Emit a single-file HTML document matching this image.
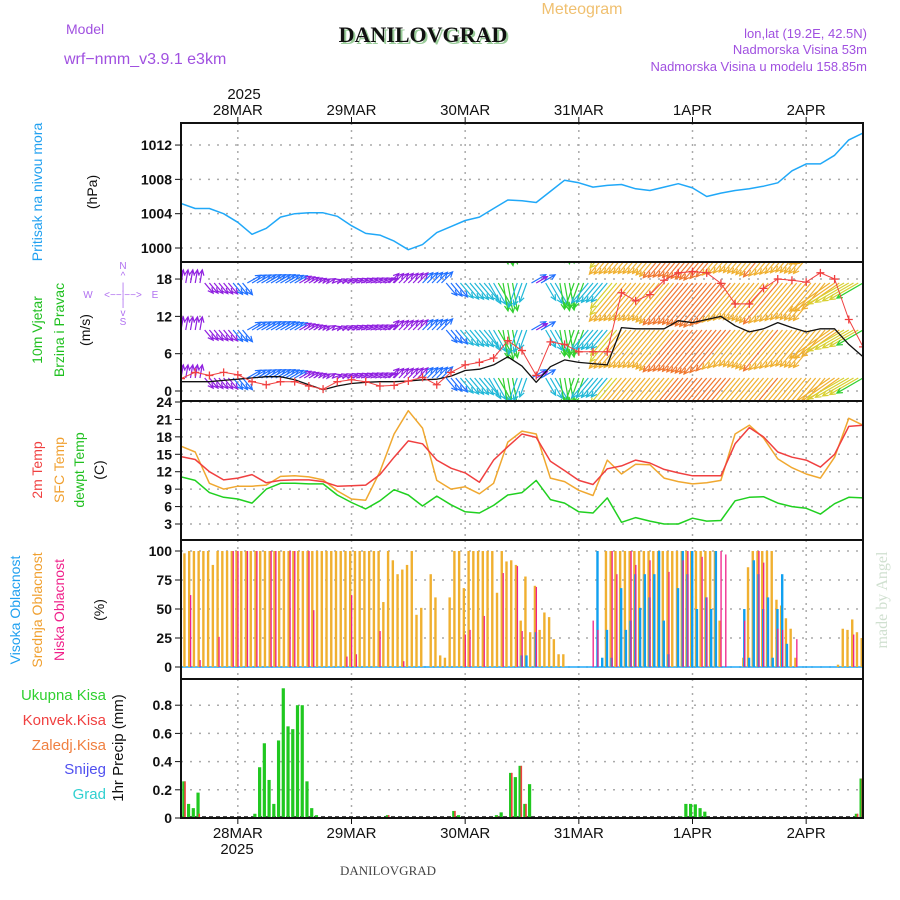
<!DOCTYPE html>
<html><head><meta charset="utf-8">
<style>
html,body{margin:0;padding:0;background:#fff;}
svg{display:block;font-family:"Liberation Sans",sans-serif;}
.tk{font-size:14px;font-weight:bold;fill:#111;text-anchor:end;}
.dt{font-size:15px;fill:#111;text-anchor:middle;}
.lab{font-size:14px;}
</style></head>
<body>
<svg id="chart" width="900" height="900" viewBox="0 0 900 900" xmlns="http://www.w3.org/2000/svg">
<defs>
<clipPath id="clipWind"><rect x="181" y="262" width="682" height="139"/></clipPath>
<clipPath id="clipAll"><rect x="181" y="123" width="682" height="695"/></clipPath>
</defs>
<!-- header -->
<text x="582" y="14" font-size="16" fill="#f0c070" text-anchor="middle">Meteogram</text>
<text x="425" y="44" font-size="22" font-weight="bold" font-family="Liberation Serif,serif" fill="#9c9" text-anchor="middle">DANILOVGRAD</text>
<text x="423" y="42" font-size="22" font-weight="bold" font-family="Liberation Serif,serif" fill="#111" text-anchor="middle">DANILOVGRAD</text>
<text x="66" y="34" font-size="14" fill="#a050e0">Model</text>
<text x="64" y="64" font-size="16" fill="#a050e0">wrf−nmm_v3.9.1  e3km</text>
<text x="867" y="38" font-size="13" fill="#a050e0" text-anchor="end">lon,lat (19.2E, 42.5N)</text>
<text x="867" y="54" font-size="13" fill="#a050e0" text-anchor="end">Nadmorska Visina 53m</text>
<text x="867" y="71" font-size="13" fill="#a050e0" text-anchor="end">Nadmorska Visina u modelu 158.85m</text>
<text x="244" y="99" class="dt">2025</text>
<g id="gGrid"></g>
<g id="gData" clip-path="url(#clipAll)"></g>
<g id="gFrames"></g>
<g id="gTicks"></g>
<!-- left labels -->
<text transform="translate(42,192) rotate(-90)" class="lab" fill="#20a0f0" text-anchor="middle">Pritisak na nivou mora</text>
<text transform="translate(97,192) rotate(-90)" class="lab" fill="#111" text-anchor="middle">(hPa)</text>
<text transform="translate(42,330) rotate(-90)" class="lab" fill="#20c020" text-anchor="middle">10m Vjetar</text>
<text transform="translate(64,330) rotate(-90)" class="lab" fill="#20c020" text-anchor="middle">Brzina i Pravac</text>
<text transform="translate(90,330) rotate(-90)" class="lab" fill="#111" text-anchor="middle">(m/s)</text>
<g fill="#b070f0" font-size="10" text-anchor="middle">
<text x="123" y="269">N</text><text x="123" y="279">^</text><text x="123" y="290">|</text>
<text x="88" y="298">W</text><text x="123" y="298">&lt;−−|−−&gt;</text><text x="155" y="298">E</text>
<text x="123" y="306">|</text><text x="123" y="316">v</text><text x="123" y="325">S</text>
</g>
<text transform="translate(42,470) rotate(-90)" class="lab" fill="#f04040" text-anchor="middle">2m Temp</text>
<text transform="translate(64,470) rotate(-90)" class="lab" fill="#f0a030" text-anchor="middle">SFC Temp</text>
<text transform="translate(84,470) rotate(-90)" class="lab" fill="#20c020" text-anchor="middle">dewpt Temp</text>
<text transform="translate(104,470) rotate(-90)" class="lab" fill="#111" text-anchor="middle">(C)</text>
<text transform="translate(20,610) rotate(-90)" class="lab" fill="#20a0f0" text-anchor="middle">Visoka Oblacnost</text>
<text transform="translate(42,610) rotate(-90)" class="lab" fill="#f0a030" text-anchor="middle">Srednja Oblacnost</text>
<text transform="translate(64,610) rotate(-90)" class="lab" fill="#f0208a" text-anchor="middle">Niska Oblacnost</text>
<text transform="translate(104,610) rotate(-90)" class="lab" fill="#111" text-anchor="middle">(%)</text>
<g font-size="15" text-anchor="end">
<text x="106" y="700" fill="#30d030">Ukupna  Kisa</text>
<text x="106" y="725" fill="#f04040">Konvek.Kisa</text>
<text x="106" y="750" fill="#f08040">Zaledj.Kisa</text>
<text x="106" y="774" fill="#5050f0">Snijeg</text>
<text x="106" y="799" fill="#30d0d0">Grad</text>
</g>
<text transform="translate(123,748) rotate(-90)" font-size="15" fill="#111" text-anchor="middle">1hr Precip (mm)</text>
<text x="237" y="854" class="dt">2025</text>
<text x="388" y="875" font-size="13" font-family="Liberation Serif,serif" fill="#444" text-anchor="middle">DANILOVGRAD</text>
<text transform="translate(887,600) rotate(-90)" font-size="16" font-family="Liberation Serif,serif" fill="#d0e0d0" text-anchor="middle">made by Angel</text>
</svg>
<script>
// ===== data (3-hourly, from 27MAR 12Z) =====
const dayLabels = ["28MAR","29MAR","30MAR","31MAR","1APR","2APR"];
const pressure = [1005.2,1004.6,1004.6,1004.0,1003.0,1001.6,1002.3,1003.6,1004.0,1004.1,1004.1,1003.7,1002.6,1001.7,1001.5,1000.8,999.8,1000.4,1001.8,1002.5,1003.2,1003.6,1004.6,1005.6,1005.5,1005.3,1006.6,1007.9,1007.6,1007.1,1007.3,1007.4,1006.9,1006.7,1007.1,1007.5,1007.0,1006.0,1006.4,1006.7,1006.9,1007.2,1007.6,1009.0,1009.8,1009.8,1010.8,1012.6,1013.4];
const temp2m = [14.6,14.1,12.0,10.6,10.9,11.5,10.1,10.5,10.6,10.6,10.3,9.5,9.6,9.7,11.5,14.5,17.3,16.8,14.0,12.6,11.8,10.2,14.0,16.3,18.5,17.9,13.8,12.2,10.5,9.8,12.5,13.0,14.0,13.5,12.4,11.8,11.3,11.3,11.3,16.8,19.6,18.0,15.4,14.5,14.0,12.8,15.0,19.8,20.0];
const tempSfc = [16.4,15.4,10.0,9.0,9.5,9.5,9.7,11.2,11.3,11.1,10.6,8.7,7.3,7.1,12.0,18.5,22.5,19.5,10.5,9.0,9.4,8.2,10.0,17.1,19.0,18.5,10.9,10.3,8.8,7.9,14.0,11.6,13.3,13.2,10.9,10.3,9.9,10.1,10.5,18.5,20.0,17.8,14.2,12.7,11.6,10.9,14.5,21.2,20.0];
const dewpt = [11.1,10.5,8.4,7.6,7.3,6.6,9.0,10.0,10.0,9.9,9.9,8.0,6.7,5.6,7.0,8.9,8.0,6.1,7.8,6.3,5.1,4.9,6.2,8.0,8.4,10.5,7.2,6.6,5.1,4.9,7.5,3.3,4.1,3.5,3.0,3.0,4.0,3.5,3.6,7.0,7.6,7.7,6.6,6.0,5.7,4.7,6.5,7.6,7.5];
const windSpeed = [1.5,1.5,1.5,1.7,1.9,2.1,2.3,2.3,1.8,1.0,0.2,0.8,1.2,1.4,1.5,1.5,1.6,1.8,1.9,2.4,3.3,3.5,4.2,5.5,4.0,1.4,3.9,5.0,4.6,4.4,4.2,10.2,10.0,10.0,10.0,11.3,11.0,11.5,12.0,10.5,9.5,10.0,11.0,10.2,9.5,10.0,10.0,7.5,5.5];
const windGust = [2.0,3.0,2.5,3.0,2.6,1.5,1.0,1.5,1.5,0.8,0.3,1.5,1.8,1.5,0.8,0.9,1.6,2.2,1.0,3.0,4.2,4.6,5.3,8.1,6.5,2.5,7.9,7.5,6.3,6.3,6.3,15.8,14.5,15.5,17.8,19.0,19.2,19.0,17.3,14.0,14.0,16.5,18.0,17.8,17.5,19.0,18.0,11.5,7.1];
const windFrom = [190,190,320,320,320,240,240,240,240,240,240,250,250,250,250,225,225,225,225,320,320,320,330,350,20,240,330,350,20,40,40,40,40,40,40,40,40,40,40,40,40,40,40,40,40,40,55,60,60];
// hourly (h1..h144)
const cloudMid = [98,100,100,100,100,100,88,100,100,100,100,100,
100,100,100,100,100,100,100,100,100,100,100,100,100,100,100,100,100,100,100,100,100,100,100,
100,100,100,100,100,100,100,56,100,92,80,84,88,100,45,51,0,80,60,10,8,60,100,100,68,100,100,100,100,100,100,64,100,91,92,88,40,78,30,70,32,47,43,24,11,11,
0,0,0,0,0,0,0,0,
100,100,100,100,100,100,100,100,100,100,100,100,100,100,100,100,100,100,100,100,100,100,100,100,
40,0,0,0,0,8,86,100,100,100,100,100,58,53,42,33,8,0,0,0,0,0,0,0,0,2,33,32,41,30,25,0];
const cloudHigh = [0,0,0,0,0,0,0,0,0,0,0,0,0,0,0,0,0,0,0,0,0,0,0,0,0,0,0,0,0,0,
0,0,0,0,0,0,0,0,0,0,0,0,0,0,0,0,0,0,0,0,0,0,0,0,0,0,0,0,0,0,
0,0,0,0,0,0,0,0,0,0,0,10,10,0,30,0,0,0,0,0,0,0,0,0,0,0,0,100,8,32,
8,0,68,32,40,80,51,80,60,80,100,40,11,0,68,100,80,100,50,0,60,50,100,0,0,0,0,0,50,8,
92,80,50,60,8,50,80,20,0,0,0,0,0,0,0,0];
const cloudLow = [0,62,0,6,0,0,0,26,0,0,100,100,0,100,0,100,0,0,100,100,0,0,100,100,0,0,100,49,0,0,
0,0,0,0,9,62,11,0,0,0,0,31,0,0,0,0,5,0,0,0,0,0,0,0,0,0,0,0,0,28,
32,0,0,44,0,0,0,81,0,0,87,31,0,0,69,0,0,0,0,0,0,0,0,0,0,0,40,32,0,0,
100,80,0,0,100,88,0,0,92,0,0,0,82,0,0,92,100,0,0,95,60,0,0,100,97,0,0,0,40,0,
0,100,90,0,0,33,32,0,0,24,0,0,0,0,0,0,0,0,0,0,0,28,0,0];
const precipTotal = [0.26,0.10,0.07,0.18,0,0,0,0,0,0,0,0,0,0,0,0.03,0.36,0.53,0.27,0.10,0.55,0.92,0.65,0.63,0.80,0.80,0.26,0.07,0.02,0,
0,0,0,0,0,0,0,0,0,0,0,0,0,0.02,0,0,0,0,0,0,0,0,0,0,0,0,0,0.05,0.02,0,
0,0,0,0,0,0,0.02,0.04,0,0.32,0.29,0.37,0.10,0.24,0,0,0,0,0,0,0,0,0,0,0,0,0,0,0,0,
0,0,0,0,0,0,0,0,0,0,0,0,0,0,0,0.01,0.10,0.10,0.097,0.07,0.045,0,0,0,0,0,0,0,0,0,
0,0,0,0,0,0,0,0,0,0,0,0,0,0,0,0,0,0,0,0,0,0,0.03,0.28];
const precipConv = [0.26,0,0,0.03,0,0,0,0,0,0,0,0,0,0,0,0,0,0,0,0,0,0,0,0,0,0,0,0,0,0,
0,0,0,0,0,0,0,0,0,0,0,0,0,0.02,0,0,0,0,0,0,0,0,0,0,0,0,0,0.05,0,0,
0,0,0,0,0,0,0.01,0,0,0.32,0,0.37,0.10,0,0,0,0,0,0,0,0,0,0,0,0,0,0,0,0,0,
0,0,0,0,0,0,0,0,0,0,0,0,0,0,0,0,0,0,0,0,0,0,0,0,0,0,0,0,0,0,
0,0,0,0,0,0,0,0,0,0,0,0,0,0,0,0,0,0,0,0,0,0,0.03,0.28];
const pTicks = [1000,1004,1008,1012];
const wTicks = [0,6,12,18];
const tTicks = [3,6,9,12,15,18,21,24];
const cTicks = [0,25,50,75,100];
const rTicks = [0,0.2,0.4,0.6,0.8];

// ===== scales =====
const X0=181, X1=863, HRS=144;
const xH = h => X0 + h*(X1-X0)/HRS;
const yP = p => 248 - (p-1000)*8.58;
const yW = v => 391 - v*6.22;
const yT = t => 402 + (24-t)*5.81;
const yC = v => 667 - v*1.16;
const yR = v => 818 - v*141;
const NS="http://www.w3.org/2000/svg";
function mk(tag, parent, attrs){const e=document.createElementNS(NS,tag);for(const k in attrs)e.setAttribute(k,attrs[k]);parent.appendChild(e);return e;}
const gGrid=document.getElementById('gGrid'), gData=document.getElementById('gData'), gFrames=document.getElementById('gFrames'), gTicks=document.getElementById('gTicks');
const panels=[[123,262],[262,401],[401,540],[540,679],[679,818]];

// vertical day grid
dayLabels.forEach((d,i)=>{
  const x=xH(12+24*i);
  panels.forEach(p=>{
    const l=mk('line',gGrid,{x1:x,x2:x,y1:p[0],y2:p[1],stroke:'#aaa','stroke-width':1.5,'stroke-dasharray':'2,5'});
    
    
  });
  const t1=mk('line',gTicks,{x1:x,x2:x,y1:117,y2:123,stroke:'#111','stroke-width':1});
   
  const t2=mk('line',gTicks,{x1:x,x2:x,y1:818,y2:824,stroke:'#111','stroke-width':1});
   
  const a=mk('text',gTicks,{x:x,y:115,class:'dt'}); a.textContent=d;
   
  const b=mk('text',gTicks,{x:x,y:838,class:'dt'}); b.textContent=d;
   
});
function hTicks(ticks, yf, fmt, name){
  ticks.forEach(v=>{
    const y=yf(v);
    const g=mk('line',gGrid,{x1:X0,x2:X1,y1:y,y2:y,stroke:'#aaa','stroke-width':1.5,'stroke-dasharray':'2,7'});
     
    const t=mk('line',gTicks,{x1:X0-6,x2:X0,y1:y,y2:y,stroke:'#111','stroke-width':1});
     
    const l=mk('text',gTicks,{x:X0-9,y:y+5,class:'tk'}); l.textContent=fmt(v);
     
  });
}
hTicks(pTicks,yP,v=>v,'pressure');
hTicks(wTicks,yW,v=>v,'wind');
hTicks(tTicks,yT,v=>v,'temp');
hTicks(cTicks,yC,v=>v,'cloud');
hTicks(rTicks,yR,v=>v===0?'0':v.toFixed(1),'precip');

function poly(arr, yf, color, w, parent, name){
  const pts=arr.map((v,i)=>xH(i*3).toFixed(1)+','+yf(v).toFixed(1)).join(' ');
  const p=mk('polyline',parent,{points:pts,fill:'none',stroke:color,'stroke-width':w,'stroke-linejoin':'round'});
   
  return p;
}
// pressure
poly(pressure,yP,'#20a8f8',1.5,gData,'pressure-line');

// wind arrows
const gWind=mk('g',gData,{'clip-path':'url(#clipWind)'});
 
function spdColor(s){
  if(s<1.8) return '#9020e0'; if(s<3) return '#2070ff'; if(s<4.5) return '#20b8d8';
  if(s<6) return '#30d030'; if(s<9) return '#d8d030'; if(s<11) return '#f0b030';
  if(s<14) return '#f07830'; return '#f04050';
}
function interp(arr,h){const f=h/3,i=Math.min(Math.floor(f),arr.length-2),r=f-i;return arr[i]*(1-r)+arr[i+1]*r;}
const rows=[236,283,330,378];
for(let h=0;h<=HRS;h++){
  const s=interp(windSpeed,h);
  const i=Math.min(Math.round(h/3),windFrom.length-1);
  const toRad=(windFrom[i]+180)*Math.PI/180;
  const L=4.2*s+7;
  const dx=Math.sin(toRad)*L, dy=-Math.cos(toRad)*L;
  const c=spdColor(s);
  rows.forEach(r=>{
    const x=xH(h), x2=x+dx, y2=r+dy;
    const a=mk('line',gWind,{x1:x,y1:r,x2:x2,y2:y2,stroke:c,'stroke-width':1.2});
     
    const ang=Math.atan2(dy,dx);
    const hd=`M${(x2-6*Math.cos(ang-0.45)).toFixed(1)},${(y2-6*Math.sin(ang-0.45)).toFixed(1)} L${x2.toFixed(1)},${y2.toFixed(1)} L${(x2-6*Math.cos(ang+0.45)).toFixed(1)},${(y2-6*Math.sin(ang+0.45)).toFixed(1)}`;
    const hp=mk('path',gWind,{d:hd,fill:'none',stroke:c,'stroke-width':1.2});
     
  });
}
poly(windSpeed,yW,'#111',1.3,gWind,'wind-speed-line');
poly(windGust,yW,'#f04040',1,gWind,'wind-gust-line');
windGust.forEach((v,i)=>{
  const x=xH(i*3),y=yW(v);
  const m=mk('path',gWind,{d:`M${x-4},${y}H${x+4}M${x},${y-4}V${y+4}`,stroke:'#f04040','stroke-width':1.3});
   
});

// temperatures
poly(tempSfc,yT,'#f0a830',1.5,gData,'sfc-temp-line');
poly(temp2m,yT,'#f04040',1.5,gData,'temp-2m-line');
poly(dewpt,yT,'#20d020',1.5,gData,'dewpoint-line');

// clouds
const zc=mk('line',gData,{x1:X0,x2:X1,y1:yC(0),y2:yC(0),stroke:'#20a8f8','stroke-width':1.5});
 
for(let k=0;k<HRS;k++){
  const x=xH(k+1);
  if(cloudMid[k]>0){const b=mk('rect',gData,{x:x-2.5,y:yC(cloudMid[k]),width:2.4,height:yC(0)-yC(cloudMid[k]),fill:'#f0b030'});
     }
  if(cloudHigh[k]>0){const b=mk('rect',gData,{x:x-1.5,y:yC(cloudHigh[k]),width:2.4,height:yC(0)-yC(cloudHigh[k]),fill:'#10a0f0'});
     }
  if(cloudLow[k]>0){const b=mk('rect',gData,{x:x-0.5,y:yC(cloudLow[k]),width:1.3,height:yC(0)-yC(cloudLow[k]),fill:'#f0208a'});
     }
}
// precip
const zp=mk('line',gData,{x1:X0,x2:X1,y1:yR(0)-1,y2:yR(0)-1,stroke:'#111','stroke-width':1.5,'stroke-dasharray':'4,3'});
 
for(let k=0;k<HRS;k++){
  const x=xH(k+1);
  if(precipTotal[k]>0){const b=mk('rect',gData,{x:x-3.5,y:yR(precipTotal[k]),width:3.2,height:yR(0)-yR(precipTotal[k]),fill:'#20c820'});
     }
  if(precipConv[k]>0){const b=mk('rect',gData,{x:x-1.5,y:yR(precipConv[k]),width:1.6,height:yR(0)-yR(precipConv[k]),fill:'#f04040'});
     }
}
// frames
panels.forEach(p=>{
  const r=mk('rect',gFrames,{x:X0,y:p[0],width:X1-X0,height:p[1]-p[0],fill:'none',stroke:'#111','stroke-width':2});
   
});
</script>
</body></html>
